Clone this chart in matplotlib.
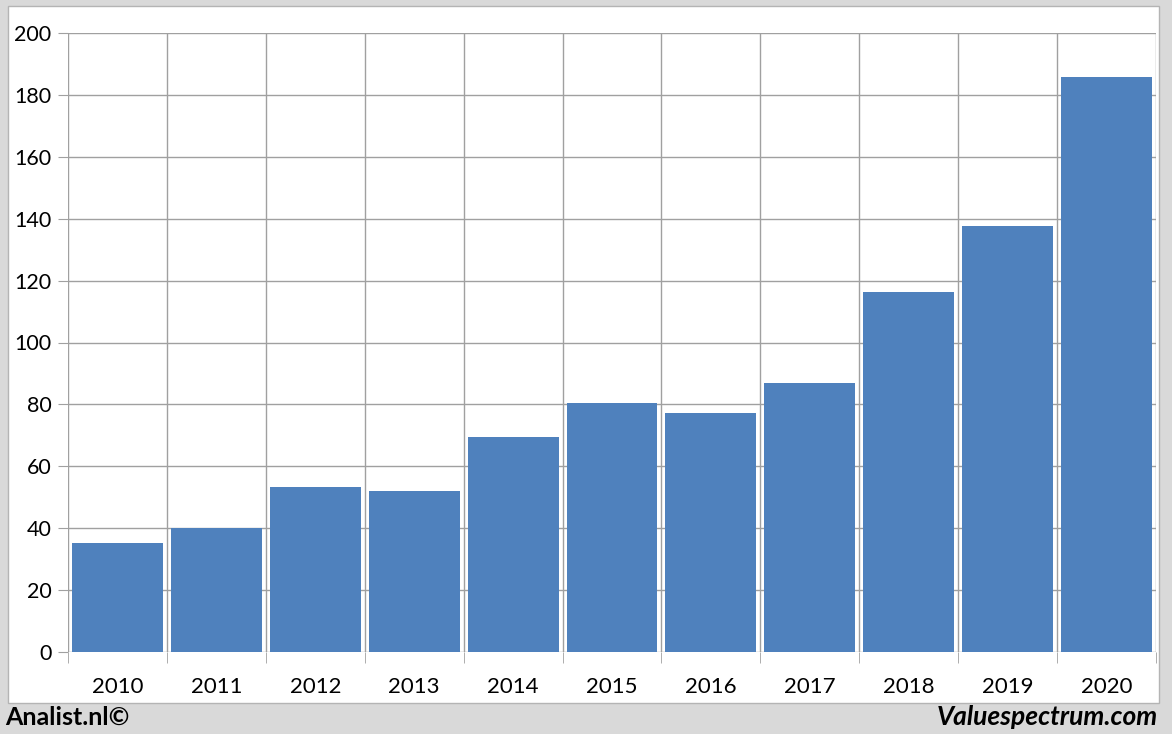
import numpy as np
import matplotlib
matplotlib.use("Agg")
from matplotlib import pyplot as plt
from matplotlib.patches import Rectangle

years = ['2010', '2011', '2012', '2013', '2014', '2015', '2016', '2017', '2018', '2019', '2020']
values = [35.2, 40.1, 53.3, 52.0, 69.5, 80.5, 77.2, 86.9, 116.3, 137.6, 185.8]
yticks = [0, 20, 40, 60, 80, 100, 120, 140, 160, 180, 200]

plt.rcParams['font.family'] = ['Lato', 'DejaVu Sans']

W, H = 1172, 734
fig = plt.figure(figsize=(W / 100, H / 100), dpi=100)
fig.patch.set_facecolor('#d9d9d9')

# white panel behind the chart
fig.patches.append(Rectangle((8 / W, 1 - 703 / H), (1159 - 8) / W, (703 - 6) / H,
                             transform=fig.transFigure, facecolor='white',
                             edgecolor='#b4b4b4', linewidth=1, zorder=-5))

ax = fig.add_axes([68 / W, 1 - 652 / H, (1156 - 68) / W, (652 - 33) / H])
ax.set_zorder(2)
x = np.arange(len(years))
ax.bar(x, values, width=0.92, color='#4f81bd', zorder=2)

ax.set_xlim(-0.5, len(years) - 0.5)
ax.set_ylim(0, 200)
ax.set_yticks(yticks)
ax.set_yticklabels([str(v) for v in yticks], fontsize=15.5)
ax.yaxis.grid(True, color='#a0a0a0', linewidth=1, zorder=0)

# vertical lines at category boundaries
bounds = np.arange(len(years) + 1) - 0.5
for b in bounds:
    ax.axvline(b, color='#a0a0a0', linewidth=1, zorder=1)
ax.set_xticks(bounds, minor=True)
ax.set_xticks(x)
ax.set_xticklabels(years, fontsize=16)
ax.tick_params(axis='x', which='major', length=0, pad=18)
ax.tick_params(axis='x', which='minor', length=8, color='#a0a0a0')
ax.tick_params(axis='y', length=7, color='#a0a0a0', pad=5)
for s in ax.spines.values():
    s.set_visible(False)
ax.set_axisbelow(True)

fig.text(5 / W, 1 - 717 / H, 'Analist.nl©', fontsize=18, fontweight='bold',
         va='center', ha='left')
fig.text(1158 / W, 1 - 717 / H, 'Valuespectrum.com', fontsize=19, fontweight='bold',
         style='italic', va='center', ha='right')

fig.savefig('out.png', dpi=100, facecolor=fig.get_facecolor())
